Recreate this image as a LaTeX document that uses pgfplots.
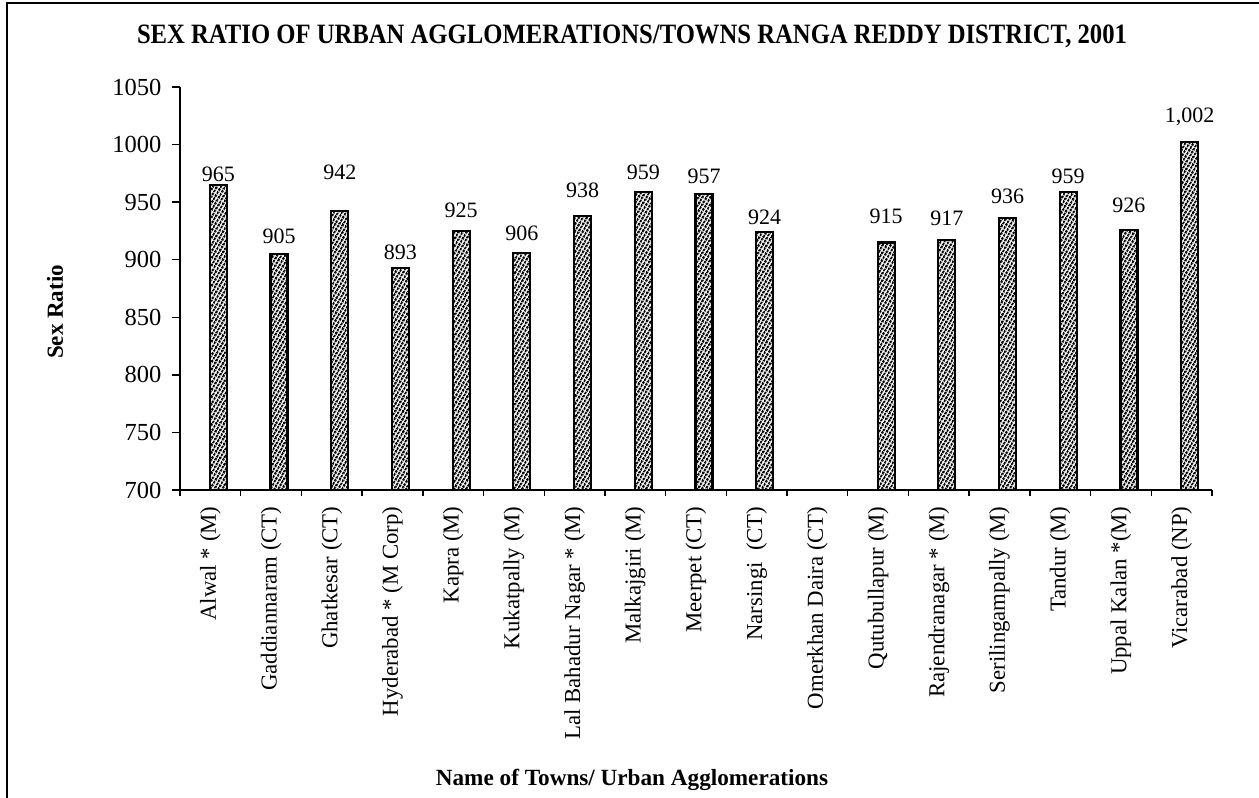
\documentclass[border=0pt]{standalone}
\usepackage{pgfplots}
\pgfplotsset{compat=1.18}
\usepackage{graphicx}
\usepackage{fontspec}
\setmainfont{Liberation Serif}
\usetikzlibrary{patterns.meta}
\begin{document}
\begin{tikzpicture}
\useasboundingbox (0,0) rectangle (1259bp,-798bp);
\draw[line width=1.5bp] (7bp,-798bp) -- (7bp,-3bp) -- (1259bp,-3bp);
\begin{axis}[
  at={(180bp,-490bp)}, anchor=south west,
  scale only axis, width=1032bp, height=403bp,
  xmin=-0.5, xmax=16.5, ymin=700, ymax=1050,
  axis lines=left, axis line style={-, line width=1.4bp},
  ytick={700,750,...,1050},
  tick align=outside,
  /pgf/number format/assume math mode=true,
  /pgf/number format/1000 sep={},
  yticklabel style={font=\fontsize{24.5bp}{28bp}\selectfont, xshift=-7bp},
  ytick style={line width=1.4bp, black},
  major tick length=8bp,
  xtick={0,...,16},
  xticklabels={Alwal * (M),Gaddiannaram (CT),Ghatkesar (CT),Hyderabad * (M Corp),Kapra (M),Kukatpally (M),Lal Bahadur Nagar * (M),Malkajgiri (M),Meerpet (CT),Narsingi\ \ (CT),Omerkhan Daira (CT),Qutubullapur (M),Rajendranagar * (M),Serilingampally (M),Tandur (M),Uppal Kalan *(M),Vicarabad (NP)},
  xticklabel style={rotate=90, anchor=east, font=\fontsize{22.8bp}{27bp}\selectfont, xshift=-5bp},
  x tick style={draw=none},
  extra x ticks={-0.5,0.5,...,16.5},
  extra x tick labels={},
  extra x tick style={x tick style={draw=black, line width=1.4bp}, major tick length=6bp},
  title={\resizebox{990bp}{\height}{\fontsize{28bp}{32bp}\selectfont\bfseries SEX RATIO OF URBAN AGGLOMERATIONS/TOWNS RANGA REDDY DISTRICT, 2001}},
  title style={at={(rel axis cs:0.438,1.110)}, anchor=center, inner sep=0pt},
  xlabel={\fontsize{23.2bp}{26bp}\selectfont\bfseries Name of Towns/ Urban Agglomerations},
  xlabel style={at={(rel axis cs:0.438,-0.7196)}, anchor=center, inner sep=0pt},
  ylabel={\fontsize{23bp}{26bp}\selectfont\bfseries Sex Ratio},
  ylabel style={at={(rel axis cs:-0.1211,0.4417)}, anchor=center, inner sep=0pt},
]
\addplot[ybar, bar width=17bp, bar shift=8bp, draw=black, line width=2.2bp,
  pattern={Lines[angle=60,distance=3.6bp,line width=2.6bp]}, pattern color=black]
  coordinates {(0,965) (1,905) (2,942) (3,893) (4,925) (5,906) (6,938) (7,959) (8,957) (9,924) (11,915) (12,917) (13,936) (14,959) (15,926) (16,1002)};
\addplot[draw=none, mark=none, nodes near coords, point meta=explicit symbolic,
  every node near coord/.append style={anchor=center, inner sep=0pt, xshift=8bp, font=\fontsize{22bp}{26bp}\selectfont}]
  coordinates {(0,974.4)[965] (1,920.6)[905] (2,976.2)[942] (3,906.7)[893] (4,943.2)[925] (5,923.2)[906] (6,960.6)[938] (7,976.2)[959] (8,972.7)[957] (9,937.1)[924] (11,938.0)[915] (12,936.3)[917] (13,955.3)[936] (14,972.7)[959] (15,947.1)[926] (16,1024)[{1,002}]};
\end{axis}
\end{tikzpicture}
\end{document}
